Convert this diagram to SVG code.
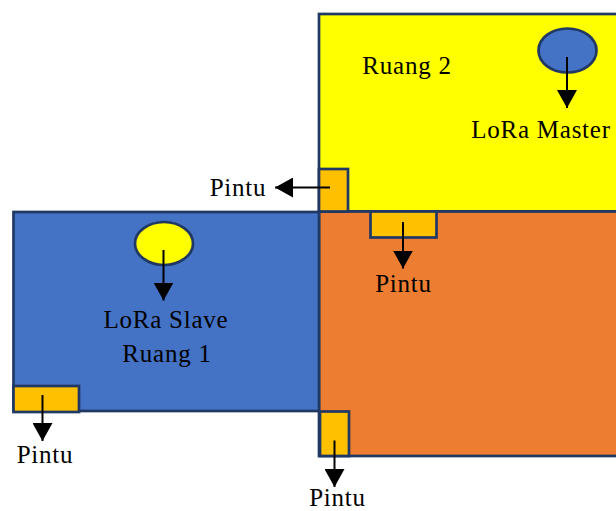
<svg xmlns="http://www.w3.org/2000/svg" width="616" height="511" viewBox="0 0 616 511">
<style>
.b{stroke:#203864;stroke-width:2.7}
.room-y{fill:#ffff00}.room-b{fill:#4472c4}.room-o{fill:#ed7d31}.door{fill:#ffc000}
text{font-family:"Liberation Serif","Times New Roman",serif;font-size:25px;letter-spacing:.75px;fill:#000;text-anchor:middle}
.c{stroke:#000;stroke-width:2;fill:none}
</style>
<defs><marker id="a" markerUnits="userSpaceOnUse" markerWidth="20" markerHeight="20" refX="18" refY="10" orient="auto"><path d="M0 0L18 10L0 20Z" fill="#000"/></marker></defs>
<g id="ruang2"><rect class="b room-y" x="319" y="14" width="300" height="197.500"/><text x="407" y="74">Ruang 2</text></g>
<g id="ruang-oranye"><rect class="b room-o" x="319" y="211.500" width="300" height="244.500"/></g>
<g id="ruang1"><rect class="b room-b" x="13.500" y="212" width="305.500" height="199"/><text x="166" y="328">LoRa Slave</text><text x="167" y="362">Ruang 1</text></g>
<g id="lora-master"><ellipse class="b room-b" cx="567.500" cy="50.500" rx="29" ry="22"/><text x="541" y="138">LoRa Master</text></g>
<g id="lora-slave"><ellipse class="b room-y" cx="164" cy="243.500" rx="29" ry="21.500"/></g>
<g id="pintu-a"><rect class="b door" x="319" y="169" width="29" height="42.500"/><text x="238" y="196">Pintu</text></g>
<g id="pintu-b"><rect class="b door" x="370.500" y="211.500" width="66" height="26"/><text x="403.500" y="292">Pintu</text></g>
<g id="pintu-c"><rect class="b door" x="13.500" y="386" width="65.500" height="26"/><text x="45" y="463">Pintu</text></g>
<g id="pintu-d"><rect class="b door" x="320" y="411.500" width="29" height="44.500"/><text x="337.500" y="505.500">Pintu</text></g>
<g id="connectors">
<path class="c" marker-end="url(#a)" d="M567 57V108"/>
<path class="c" marker-end="url(#a)" d="M163.500 250V300.500"/>
<path class="c" marker-end="url(#a)" d="M330 187.500H275"/>
<path class="c" marker-end="url(#a)" d="M403 222V268.500"/>
<path class="c" marker-end="url(#a)" d="M42.500 395V441"/>
<path class="c" marker-end="url(#a)" d="M334.500 440.500V487"/>
</g>
</svg>
